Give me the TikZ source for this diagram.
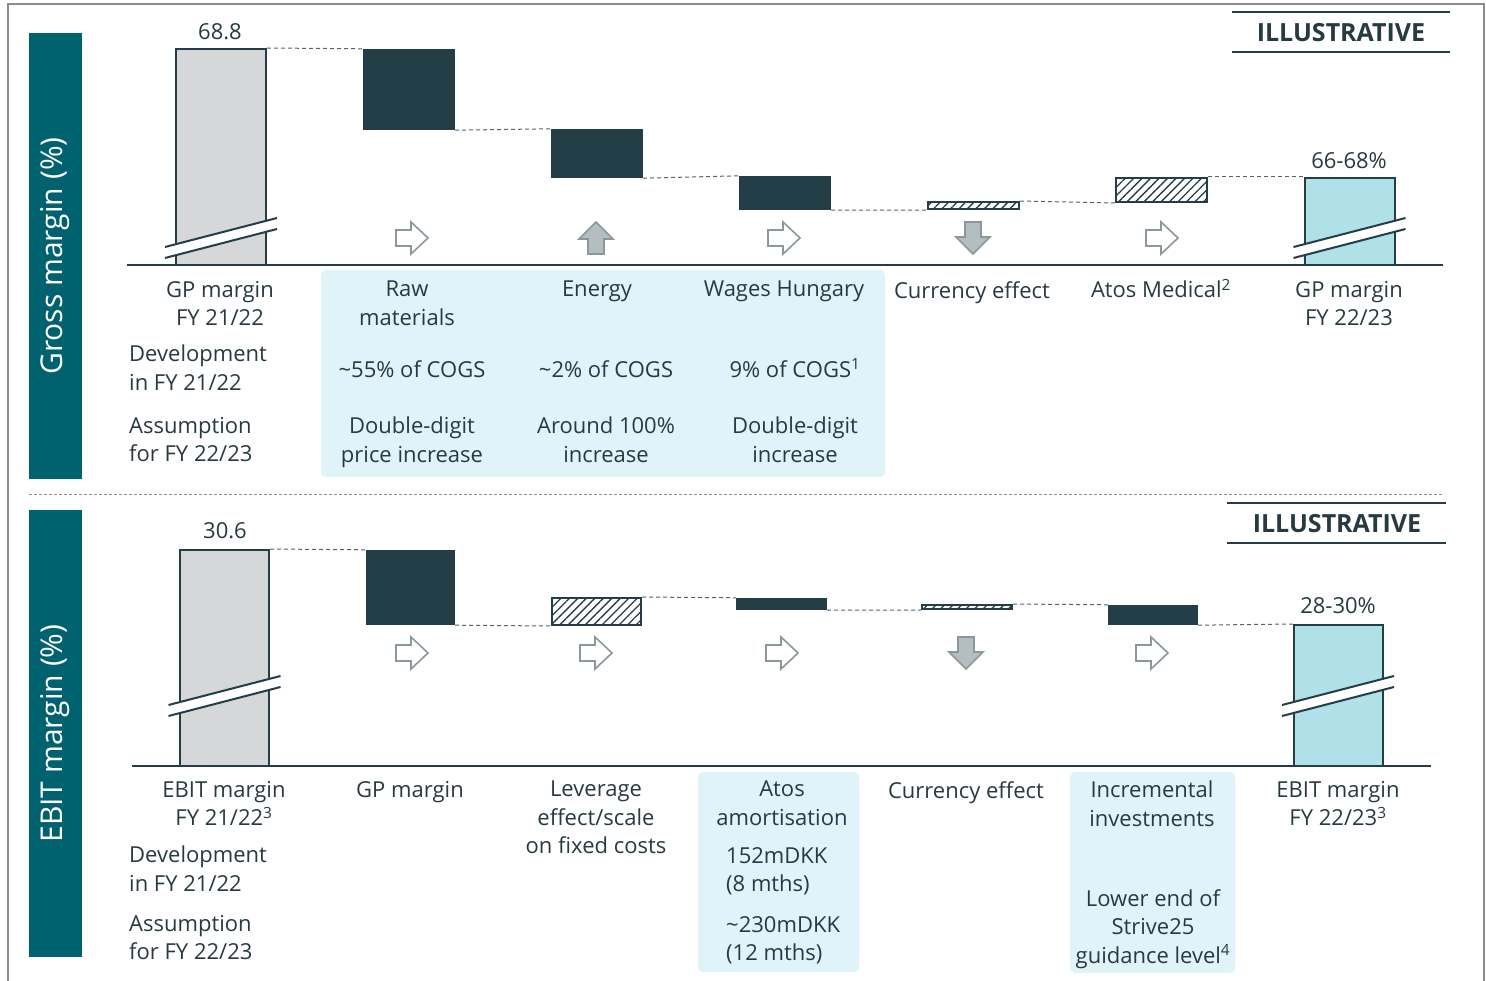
\documentclass[tikz,border=0pt]{standalone}
\usepackage{fontspec}
\setmainfont{Open Sans}
\usetikzlibrary{fit,patterns.meta}
\definecolor{teal}{HTML}{00626E}
\definecolor{darkbar}{HTML}{243E47}
\definecolor{textc}{HTML}{263A40}
\definecolor{graybar}{HTML}{D5D7D9}
\definecolor{ltteal}{HTML}{B0E1E8}
\definecolor{hilite}{HTML}{DFF3F8}
\definecolor{arrfill}{HTML}{B4BDBF}
\definecolor{arrline}{HTML}{8A989C}
\definecolor{framec}{HTML}{8C8C8C}
\newcommand{\labfont}{\fontsize{22}{28.5}\selectfont}
\newcommand{\supr}[1]{\smash{\textsuperscript{#1}}}
\begin{document}
\begin{tikzpicture}[x=1pt,y=-1pt,
  lab/.style={font=\labfont, text=textc, inner sep=0pt, anchor=north, align=center},
  labl/.style={lab, anchor=north west, align=left},
  numlab/.style={font=\labfont, text=textc, inner sep=0pt, anchor=north},
  illus/.style={font=\fontsize{25}{30}\selectfont\bfseries, text=textc, inner sep=0pt, anchor=north},
  illusline/.style={draw=darkbar, line width=2.5pt},
  sidebar/.style={fill=teal, inner sep=0pt},
  sidetext/.style={rotate=90, text=white, font=\fontsize{30}{34}\selectfont, inner sep=0pt},
  bar/.style={inner sep=0pt},
  startbar/.style={bar, fill=graybar, draw=darkbar, line width=2pt},
  endbar/.style={bar, fill=ltteal, draw=darkbar, line width=2pt},
  drop/.style={bar, fill=darkbar},
  hatchbar/.style={bar, draw=darkbar, line width=2pt, fill=white,
     postaction={pattern={Lines[angle=45,distance=6pt,line width=1.3pt]}, pattern color=darkbar}},
  conn/.style={draw=darkbar!80, line width=1pt, dash pattern=on 4pt off 3pt},
  axisline/.style={draw=darkbar, line width=2.2pt},
  hibox/.style={fill=hilite, rounded corners=5pt, inner sep=0pt},
  brkline/.style={draw=darkbar, line width=2pt},
  rarrow/.pic={\filldraw[fill=white, draw=arrline, line width=1.6pt, line join=miter]
     (-16,-8) -- (-1,-8) -- (-1,-16) -- (16,0) -- (-1,16) -- (-1,8) -- (-16,8) -- cycle;},
  uarrow/.pic={\filldraw[fill=arrfill, draw=arrline, line width=1.6pt, line join=miter]
     (-8,16) -- (-8,1) -- (-17,1) -- (0,-16) -- (17,1) -- (8,1) -- (8,16) -- cycle;},
  darrow/.pic={\filldraw[fill=arrfill, draw=arrline, line width=1.6pt, line join=miter]
     (-8,-16) -- (-8,-1) -- (-17,-1) -- (0,16) -- (17,-1) -- (8,-1) -- (8,-16) -- cycle;},
  brk/.pic={\fill[white] (-56,9.5) -- (56,-19.5) -- (56,-8.5) -- (-56,20.5) -- cycle;
     \draw[brkline] (-56,9.5) -- (56,-19.5) (-56,20.5) -- (56,-8.5);}
]
\useasboundingbox (0,0) rectangle (1486,981);
% frame
\draw[framec, line width=2pt] (8,985) -- (8,4) -- (1484,4) -- (1484,985);

%================ TOP PANEL =================
\node[sidebar, fit={(29,33) (82,479)}] (sb1) {};
\node[sidetext] at (sb1.center) {Gross margin (\%)};

\draw[illusline] (1232,12) -- (1450,12);
\draw[illusline] (1232,52) -- (1450,52);
\node[illus] (il1) at (1341,23) {ILLUSTRATIVE};

\node[hibox, fit={(321,270) (885,477)}] (hb1) {};

\node[startbar, fit={(176,49) (266,265)}] (g1) {};
\node[drop, fit={(363,49) (455,130)}] (g2) {};
\node[drop, fit={(551,129) (643,178)}] (g3) {};
\node[drop, fit={(739,176) (831,210)}] (g4) {};
\node[hatchbar, fit={(928,202) (1019,209)}] (g5) {};
\node[hatchbar, fit={(1116,178) (1207,202)}] (g6) {};
\node[endbar, fit={(1305,178) (1395,265)}] (g7) {};
\pic at (221,237.5) {brk};
\pic at (1349.5,237.5) {brk};

\draw[conn] (g1.north east) -- (g2.north west);
\draw[conn] (g2.south east) -- (g3.north west);
\draw[conn] (g3.south east) -- (g4.north west);
\draw[conn] (g4.south east) -- (g5.south west);
\draw[conn] (g5.north east) -- (g6.south west);
\draw[conn] (g6.north east) -- (g7.north west);

\draw[axisline] (127,265) -- (1443,265);

\node[numlab] (v1) at (220,23) {68.8};
\node[numlab] (v2) at (1349,152) {66-68\%};

\pic at (412,238) {rarrow};
\pic at (596,238) {uarrow};
\pic at (784,238) {rarrow};
\pic at (973,238) {darrow};
\pic at (1162,238) {rarrow};

\node[lab] (t1) at (220,281) {GP margin\\FY 21/22};
\node[lab] (t2) at (407,281) {Raw\\materials};
\node[lab] (t3) at (597,281) {Energy};
\node[lab] (t4) at (784,281) {Wages Hungary};
\node[lab] (t5) at (972,281) {Currency effect};
\node[lab] (t6) at (1161,281) {Atos Medical\supr{2}};
\node[lab] (t7) at (1349,281) {GP margin\\FY 22/23};

\node[labl] (d1) at (129,345) {Development\\in FY 21/22};
\node[labl] (a1) at (129,417) {Assumption\\for FY 22/23};

\node[lab] (d2) at (412,360) {\textasciitilde55\% of COGS};
\node[lab] (d3) at (606,360) {\textasciitilde2\% of COGS};
\node[lab] (d4) at (795,360) {9\% of COGS\supr{1}};

\node[lab] (a2) at (412,417) {Double-digit\\price increase};
\node[lab] (a3) at (606,417) {Around 100\%\\increase};
\node[lab] (a4) at (795,417) {Double-digit\\increase};

% separator
\draw[framec, line width=1pt, dash pattern=on 3pt off 2pt] (29,494) -- (1443,494);

%================ BOTTOM PANEL =================
\node[sidebar, fit={(29,510) (82,957)}] (sb2) {};
\node[sidetext] at (sb2.center) {EBIT margin (\%)};

\draw[illusline] (1227,503) -- (1446,503);
\draw[illusline] (1227,543) -- (1446,543);
\node[illus] (il2) at (1337,514) {ILLUSTRATIVE};

\node[hibox, fit={(698,772) (859,972)}] (hb2) {};
\node[hibox, fit={(1070,772) (1235,973)}] (hb3) {};

\node[startbar, fit={(180,550) (269,766)}] (e1) {};
\node[drop, fit={(366,550) (455,625)}] (e2) {};
\node[hatchbar, fit={(552,598) (641,625)}] (e3) {};
\node[drop, fit={(736,598) (827,610)}] (e4) {};
\node[hatchbar, fit={(922,605) (1012,609)}] (e5) {};
\node[drop, fit={(1108,605) (1198,625)}] (e6) {};
\node[endbar, fit={(1294,625) (1383,766)}] (e7) {};
\pic at (224.5,695.5) {brk};
\pic at (1338,695.5) {brk};

\draw[conn] (e1.north east) -- (e2.north west);
\draw[conn] (e2.south east) -- (e3.south west);
\draw[conn] (e3.north east) -- (e4.north west);
\draw[conn] (e4.south east) -- (e5.south west);
\draw[conn] (e5.north east) -- (e6.north west);
\draw[conn] (e6.south east) -- (e7.north west);

\draw[axisline] (132,766) -- (1431,766);

\node[numlab] (w1) at (225,522) {30.6};
\node[numlab] (w2) at (1338,597) {28-30\%};

\pic at (412,653) {rarrow};
\pic at (596,653) {rarrow};
\pic at (782,653) {rarrow};
\pic at (966,653) {darrow};
\pic at (1152,653) {rarrow};

\node[lab] (s1) at (224,781) {EBIT margin\\FY 21/22\supr{3}};
\node[lab] (s2) at (410,781) {GP margin};
\node[lab] (s3) at (596,781) {Leverage\\effect/scale\\on fixed costs};
\node[lab] (s4) at (782,781) {Atos\\amortisation};
\node[lab] (s5) at (966,781) {Currency effect};
\node[lab] (s6) at (1152,781) {Incremental\\investments};
\node[lab] (s7) at (1338,781) {EBIT margin\\FY 22/23\supr{3}};

\node[labl] (d5) at (129,846) {Development\\in FY 21/22};
\node[labl] (a5) at (129,915) {Assumption\\for FY 22/23};

\node[labl] (d6) at (726,847) {152mDKK\\(8 mths)};
\node[labl] (a6) at (726,916) {\textasciitilde230mDKK\\(12 mths)};
\node[lab] (a7) at (1153,889) {Lower end of\\Strive25\\guidance level\supr{4}};
\end{tikzpicture}
\end{document}
